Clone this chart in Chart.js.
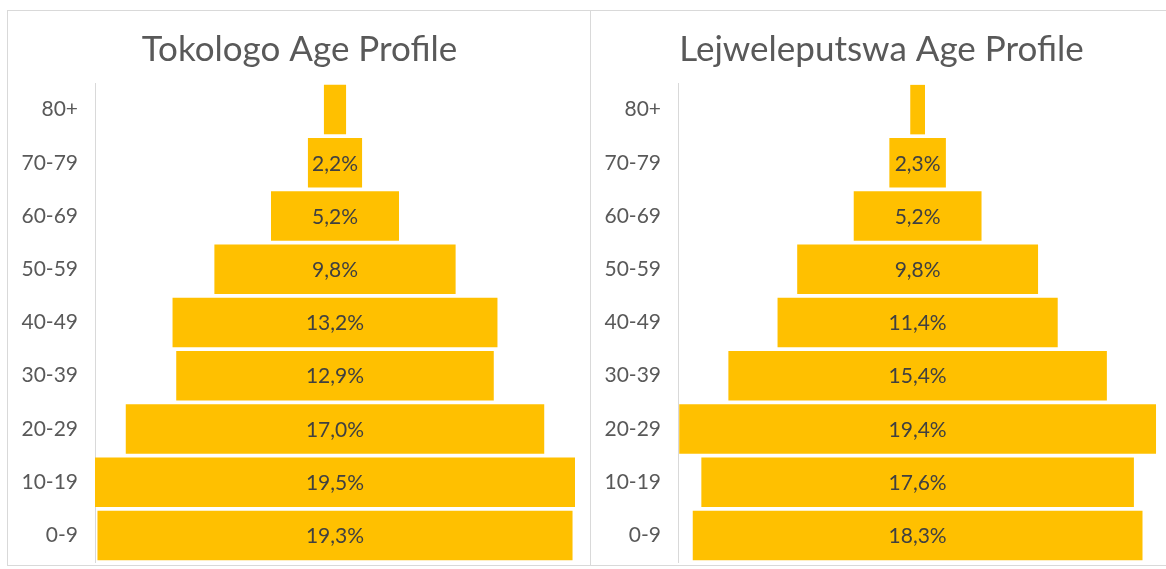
<!DOCTYPE html>
<html>
<head>
<meta charset="utf-8">
<script src="https://cdn.jsdelivr.net/npm/chart.js@4"></script>
<style>
  body { margin: 0; background: #fff; width: 1166px; height: 569px; overflow: hidden; position: relative; }
  .panel { position: absolute; top: 10px; height: 554px; border: 1px solid #d9d9d9; background: #fff; }
  #leftPanel { left: 7px; width: 583px; }
  #rightPanel { left: 590px; width: 600px; }
</style>
</head>
<body>
<div class="panel" id="leftPanel"><canvas id="tokologo" width="583" height="554"></canvas></div>
<div class="panel" id="rightPanel"><canvas id="lejwe" width="581" height="554"></canvas></div>

<script>
// age groups, top row first
const ageGroups = ['80+', '70-79', '60-69', '50-59', '40-49', '30-39', '20-29', '10-19', '0-9'];

// share of population in %, same order
const tokologo = [0.9, 2.2, 5.2, 9.8, 13.2, 12.9, 17.0, 19.5, 19.3];
const lejweleputswa = [0.6, 2.3, 5.2, 9.8, 11.4, 15.4, 19.4, 17.6, 18.3];

const barColour = '#FFC000';
const textGrey = '#595959';
const fontName = 'Lato, "Open Sans", sans-serif';

// writes the % value in the middle of each bar (the smallest one has none)
const barLabels = {
    id: 'barLabels',
    afterDatasetsDraw(chart) {
        const ctx = chart.ctx;
        const vals = chart.data.datasets[0].pct;
        const meta = chart.getDatasetMeta(0);
        ctx.save();
        ctx.fillStyle = '#404040';
        ctx.font = '21px ' + fontName;
        ctx.textAlign = 'center';
        ctx.textBaseline = 'middle';
        meta.data.forEach((bar, i) => {
            if (vals[i] < 1) return;
            const txt = vals[i].toFixed(1).replace('.', ',') + '%';
            ctx.fillText(txt, (bar.base + bar.x) / 2, bar.y + 1);
        });
        ctx.restore();
    }
};

function makePyramid(canvasId, title, values, xMax) {
    const ctx = document.getElementById(canvasId).getContext('2d');
    return new Chart(ctx, {
        type: 'bar',
        data: {
            labels: ageGroups,
            datasets: [{
                data: values.map(v => [-v / 2, v / 2]),
                pct: values,
                backgroundColor: barColour,
                borderWidth: 0,
                barPercentage: 0.93,
                categoryPercentage: 1.0
            }]
        },
        options: {
            indexAxis: 'y',
            responsive: false,
            animation: false,
            layout: { padding: { top: 0, right: 0, bottom: 3, left: 0 } },
            plugins: {
                legend: { display: false },
                tooltip: { enabled: false },
                title: {
                    display: true,
                    text: title,
                    color: textGrey,
                    font: { family: fontName, size: 35, weight: 'normal' },
                    padding: { top: 18, bottom: 12 }
                }
            },
            scales: {
                x: {
                    display: false,
                    min: -9.75,
                    max: xMax
                },
                y: {
                    // fixed axis width, and no extra room above/below the bars
                    afterFit(scale) {
                        scale.width = 87;
                        scale.paddingTop = 0;
                        scale.paddingBottom = 0;
                    },
                    grid: { display: false, drawTicks: false },
                    border: { display: true, color: '#d9d9d9', width: 1 },
                    ticks: {
                        color: textGrey,
                        padding: 17,
                        font: { family: fontName, size: 21 }
                    }
                }
            }
        },
        plugins: [barLabels]
    });
}

makePyramid('tokologo', 'Tokologo Age Profile', tokologo, 10.4);
makePyramid('lejwe', 'Lejweleputswa Age Profile', lejweleputswa, 10.35);
</script>
</body>
</html>
